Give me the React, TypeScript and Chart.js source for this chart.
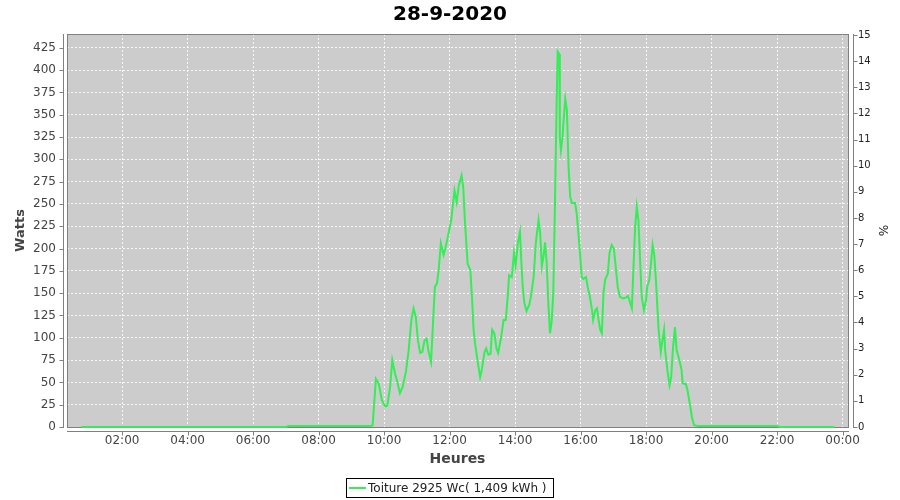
import React, { useEffect, useRef } from "react";
import { Chart, registerables } from "chart.js";

Chart.register(...registerables);

const TITLE = "28-9-2020";
const SERIES_LABEL = "Toiture 2925 Wc( 1,409 kWh )";
const X_TITLE = "Heures";
const Y_TITLE = "Watts";
const Y2_TITLE = "%";
const LINE_COLOR = "#33ee55";

const times: string[] = [
  "00:45", "07:00", "07:05", "09:35", "09:39", "09:45", "09:50", "09:56", "10:02", "10:06",
  "10:11", "10:15", "10:20", "10:24", "10:29", "10:34", "10:40", "10:45", "10:50", "10:54",
  "10:58", "11:02", "11:06", "11:10", "11:14", "11:18", "11:21", "11:26", "11:29", "11:33",
  "11:37", "11:40", "11:44", "11:49", "11:53", "11:58", "12:03", "12:07", "12:09", "12:13",
  "12:17", "12:22", "12:25", "12:28", "12:33", "12:38", "12:41", "12:44", "12:47", "12:52",
  "12:56", "12:59", "13:04", "13:07", "13:11", "13:15", "13:18", "13:22", "13:26", "13:29",
  "13:34", "13:39", "13:43", "13:47", "13:49", "13:54", "13:58", "14:01", "14:05", "14:09",
  "14:11", "14:14", "14:17", "14:21", "14:26", "14:29", "14:34", "14:38", "14:43", "14:46",
  "14:49", "14:52", "14:55", "14:58", "15:01", "15:04", "15:07", "15:10", "15:13", "15:16",
  "15:18", "15:21", "15:22", "15:24", "15:27", "15:28", "15:32", "15:35", "15:38", "15:41",
  "15:44", "15:50", "15:53", "15:56", "15:59", "16:02", "16:05", "16:10", "16:13", "16:17",
  "16:21", "16:23", "16:27", "16:30", "16:33", "16:36", "16:39", "16:42", "16:45", "16:50",
  "16:53", "16:57", "17:01", "17:05", "17:08", "17:12", "17:18", "17:23", "17:27", "17:31",
  "17:34", "17:37", "17:40", "17:43", "17:46", "17:49", "17:52", "17:56", "18:00", "18:02",
  "18:06", "18:09", "18:12", "18:15", "18:18", "18:21", "18:23", "18:27", "18:30", "18:33",
  "18:35", "18:39", "18:43", "18:46", "18:49", "18:53", "18:56", "19:01", "19:05", "19:07",
  "19:13", "19:16", "19:21", "19:24", "19:28", "19:35", "22:00", "22:05", "23:45",
];

const watts: number[] = [
  0, 0, 1, 1, 2, 54, 49, 30, 23, 24,
  45, 75, 60, 51, 38, 45, 62, 86, 120, 133,
  124, 97, 83, 84, 97, 99, 86, 73, 109, 157,
  161, 176, 206, 193, 202, 217, 232, 254, 265, 252,
  271, 282, 269, 232, 183, 176, 146, 109, 92, 71,
  56, 64, 84, 88, 81, 82, 109, 105, 88, 83,
  99, 120, 120, 150, 170, 168, 195, 181, 206, 219,
  191, 157, 139, 130, 137, 146, 168, 206, 232, 217,
  180, 191, 207, 183, 138, 105, 118, 150, 247, 359,
  421, 418, 325, 310, 325, 336, 368, 355, 292, 258,
  251, 251, 239, 217, 195, 168, 166, 168, 157, 146,
  131, 120, 131, 133, 120, 109, 105, 150, 165, 172,
  195, 204, 200, 176, 157, 146, 144, 145, 147, 139,
  133, 180, 224, 247, 232, 188, 146, 131, 142, 157,
  165, 183, 204, 193, 165, 131, 109, 84, 97, 109,
  86, 64, 47, 56, 86, 112, 86, 75, 64, 49,
  48, 41, 23, 11, 2, 1, 1, 0, 0,
];

// x tick positions in minutes since midnight
const xTickMinutes: number[] = [120, 240, 360, 480, 600, 720, 840, 960, 1080, 1200, 1320, 1440];
const yTicks: number[] = [0, 25, 50, 75, 100, 125, 150, 175, 200, 225, 250, 275, 300, 325, 350, 375, 400, 425];
const y2Ticks: number[] = [0, 1, 2, 3, 4, 5, 6, 7, 8, 9, 10, 11, 12, 13, 14, 15];

const X_MIN = 19;
const X_MAX = 1450;
const Y_MAX = 440.5;
const Y2_MAX = 15.04;

const toMinutes = (t: string) => {
  const [h, m] = t.split(":").map(Number);
  return h * 60 + m;
};

const fmtMinutes = (v: number) => {
  const h = Math.floor(v / 60) % 24;
  const m = Math.round(v % 60);
  return `${String(h).padStart(2, "0")}:${String(m).padStart(2, "0")}`;
};

const framePlugin = {
  id: "frame",
  beforeDraw(chart: any) {
    const { ctx, chartArea: a } = chart;
    ctx.save();
    ctx.fillStyle = "#cccccc";
    ctx.fillRect(a.left, a.top, a.right - a.left + 1, a.bottom - a.top + 1);
    ctx.restore();
  },
  beforeDatasetsDraw(chart: any) {
    const { ctx, chartArea: a, scales } = chart;
    ctx.save();
    ctx.strokeStyle = "#808080";
    ctx.lineWidth = 1;
    ctx.strokeRect(a.left + 0.5, a.top + 0.5, a.right - a.left, a.bottom - a.top);

    // left axis line + ticks
    const lx = a.left - 4 + 0.5;
    ctx.beginPath();
    ctx.moveTo(lx, a.top);
    ctx.lineTo(lx, a.bottom + 1);
    scales.y.ticks.forEach((t: any) => {
      const py = Math.round(scales.y.getPixelForValue(t.value)) + 0.5;
      ctx.moveTo(lx - 4, py);
      ctx.lineTo(lx, py);
    });
    // bottom axis line + ticks
    const by = a.bottom + 4 + 0.5;
    ctx.moveTo(a.left, by);
    ctx.lineTo(a.right + 1, by);
    scales.x.ticks.forEach((t: any) => {
      const px = Math.round(scales.x.getPixelForValue(t.value)) + 0.5;
      ctx.moveTo(px, by);
      ctx.lineTo(px, by + 4);
    });
    // right axis line + ticks
    const rx = a.right + 5 + 0.5;
    ctx.moveTo(rx, a.top);
    ctx.lineTo(rx, a.bottom + 1);
    scales.y2.ticks.forEach((t: any) => {
      const py = Math.round(scales.y2.getPixelForValue(t.value)) + 0.5;
      ctx.moveTo(rx, py);
      ctx.lineTo(rx + 4, py);
    });
    ctx.stroke();
    ctx.restore();
  },
};

const boxLegendPlugin = {
  id: "boxLegend",
  afterDraw(chart: any) {
    const ctx = chart.ctx;
    const ds = chart.data.datasets[0];
    ctx.save();
    ctx.font = "12px 'DejaVu Sans', sans-serif";
    const tw = ctx.measureText(ds.label).width;
    const w = Math.round(3 + 17 + 2 + tw + 6);
    const h = 19;
    const x0 = Math.round(chart.width / 2 - 1 - w / 2);
    const y0 = chart.height - 22;
    ctx.fillStyle = "#ffffff";
    ctx.fillRect(x0, y0, w, h);
    ctx.strokeStyle = "#000000";
    ctx.lineWidth = 1;
    ctx.strokeRect(x0 + 0.5, y0 + 0.5, w, h);
    ctx.strokeStyle = ds.borderColor;
    ctx.lineWidth = 2;
    ctx.beginPath();
    ctx.moveTo(x0 + 3, y0 + 10);
    ctx.lineTo(x0 + 20, y0 + 10);
    ctx.stroke();
    ctx.fillStyle = "#222222";
    ctx.textBaseline = "middle";
    ctx.textAlign = "left";
    ctx.fillText(ds.label, x0 + 22, y0 + 10.5);
    ctx.restore();
  },
};

export default function App() {
  const canvasRef = useRef<HTMLCanvasElement | null>(null);

  useEffect(() => {
    if (!canvasRef.current) return;
    Chart.defaults.font.family = "'DejaVu Sans', sans-serif";
    const chart = new Chart(canvasRef.current, {
      type: "line",
      data: {
        datasets: [
          {
            label: SERIES_LABEL,
            data: times.map((t, i) => ({ x: toMinutes(t), y: watts[i] })),
            borderColor: LINE_COLOR,
            backgroundColor: LINE_COLOR,
            borderWidth: 2,
            pointRadius: 0,
            tension: 0,
            fill: false,
            clip: 3,
            xAxisID: "x",
            yAxisID: "y",
          },
        ],
      },
      options: {
        animation: false,
        responsive: false,
        devicePixelRatio: 1,
        layout: { padding: { top: 0, left: 0, right: 0, bottom: 25 } },
        plugins: {
          legend: { display: false },
          tooltip: { enabled: false },
          title: {
            display: true,
            text: TITLE,
            color: "#000000",
            font: { size: 20, weight: "bold" },
            padding: { top: 3, bottom: 7 },
          },
        },
        scales: {
          x: {
            type: "linear",
            position: "bottom",
            min: X_MIN,
            max: X_MAX,
            afterBuildTicks: (s: any) => {
              s.ticks = xTickMinutes.map((v) => ({ value: v }));
            },
            afterFit: (s: any) => {
              s.height = 48;
            },
            ticks: {
              autoSkip: false,
              maxRotation: 0,
              color: "#444444",
              font: { size: 12 },
              padding: 7,
              callback: (v: any) => fmtMinutes(Number(v)),
            },
            grid: {
              color: "rgba(255,255,255,0.85)",
              lineWidth: 1,
              drawTicks: false,
            },
            border: { display: false, dash: [2, 2] },
            title: {
              display: true,
              text: X_TITLE,
              color: "#444444",
              font: { size: 14, weight: "bold" },
              padding: { top: 0, bottom: 7 },
            },
          },
          y: {
            type: "linear",
            position: "left",
            min: 0,
            max: Y_MAX,
            afterBuildTicks: (s: any) => {
              s.ticks = yTicks.map((v) => ({ value: v }));
            },
            afterFit: (s: any) => {
              s.width = 67;
            },
            ticks: {
              autoSkip: false,
              color: "#444444",
              font: { size: 12 },
              padding: 11,
              callback: (v: any) => String(v),
            },
            grid: {
              color: "rgba(255,255,255,0.85)",
              lineWidth: 1,
              drawTicks: false,
            },
            border: { display: false, dash: [2, 2] },
            title: {
              display: true,
              text: Y_TITLE,
              color: "#444444",
              font: { size: 13, weight: "bold" },
              padding: { top: 13, bottom: 0 },
            },
          },
          y2: {
            type: "linear",
            position: "right",
            min: 0,
            max: Y2_MAX,
            afterBuildTicks: (s: any) => {
              s.ticks = y2Ticks.map((v) => ({ value: v }));
            },
            afterFit: (s: any) => {
              s.width = 52;
            },
            ticks: {
              autoSkip: false,
              color: "#222222",
              font: { size: 10 },
              padding: 10,
              callback: (v: any) => String(v),
            },
            grid: { display: false, drawTicks: false },
            border: { display: false },
            title: {
              display: true,
              text: Y2_TITLE,
              color: "#222222",
              font: { size: 12 },
              padding: { top: 11, bottom: 0 },
            },
          },
        },
      },
      plugins: [framePlugin, boxLegendPlugin],
    } as any);
    return () => chart.destroy();
  }, []);

  return (
    <div style={{ position: "fixed", left: 0, top: 0, width: 900, height: 500, background: "#ffffff" }}>
      <canvas ref={canvasRef} width={900} height={500} style={{ display: "block" }} />
    </div>
  );
}
